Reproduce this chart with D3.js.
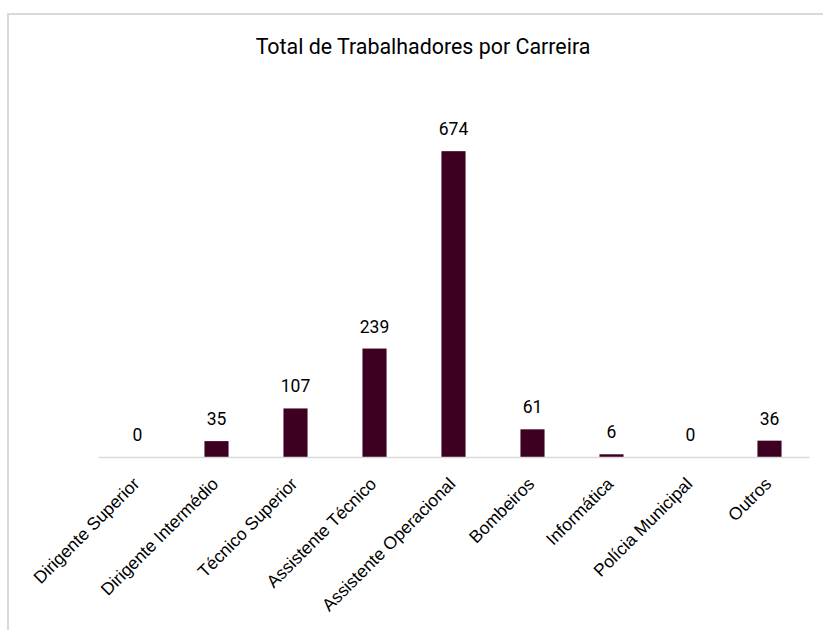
<!DOCTYPE html>
<html><head><meta charset="utf-8">
<script src="https://cdn.jsdelivr.net/npm/d3@7"></script>
<style>body{margin:0;background:#fff}svg{display:block}</style>
</head><body>
<svg id="c" width="823" height="630"></svg>
<script>
const categories = ["Dirigente Superior","Dirigente Intermédio","Técnico Superior","Assistente Técnico","Assistente Operacional","Bombeiros","Informática","Polícia Municipal","Outros"];
const values = [0,35,107,239,674,61,6,0,36];
const title = "Total de Trabalhadores por Carreira";

const svg = d3.select("#c");
svg.append("rect").attr("x",8).attr("y",14).attr("width",830).attr("height",640)
  .attr("fill","#fff").attr("stroke","#d9d9d9").attr("stroke-width",2);

svg.append("text").attr("x",423).attr("y",54).attr("text-anchor","middle")
  .attr("font-family","Roboto").attr("font-size",21.4).attr("fill","#000").text(title);

const x = d3.scaleBand().domain(categories).range([98,809]).paddingInner(0.695).paddingOuter(0.3475);
const y = d3.scaleLinear().domain([0,800]).range([457,94]);

svg.selectAll("rect.bar").data(values).enter().append("rect").attr("class","bar")
  .attr("x",(d,i)=>x(categories[i])).attr("width",x.bandwidth())
  .attr("y",d=>y(d)).attr("height",d=>y(0)-y(d)).attr("fill","#3d0020");

const ax = svg.append("g").attr("transform","translate(0,457)")
  .call(d3.axisBottom(x).tickSize(0).tickSizeOuter(0));
ax.select(".domain").attr("stroke","#d9d9d9").attr("stroke-width",1.3);
ax.selectAll("text").attr("font-family","Liberation Sans, Arial").attr("font-size",17.5).attr("fill","#000")
  .attr("text-anchor","end").attr("dy",0)
  .attr("transform","translate(3,28) rotate(-45)").attr("y",0).attr("x",0);

svg.selectAll("text.val").data(values).enter().append("text").attr("class","val")
  .attr("x",(d,i)=>x(categories[i])+x.bandwidth()/2).attr("y",d=>y(d)-16)
  .attr("text-anchor","middle").attr("font-family","Roboto").attr("font-size",17.5).attr("fill","#000")
  .text(d=>d);
</script>
</body></html>
